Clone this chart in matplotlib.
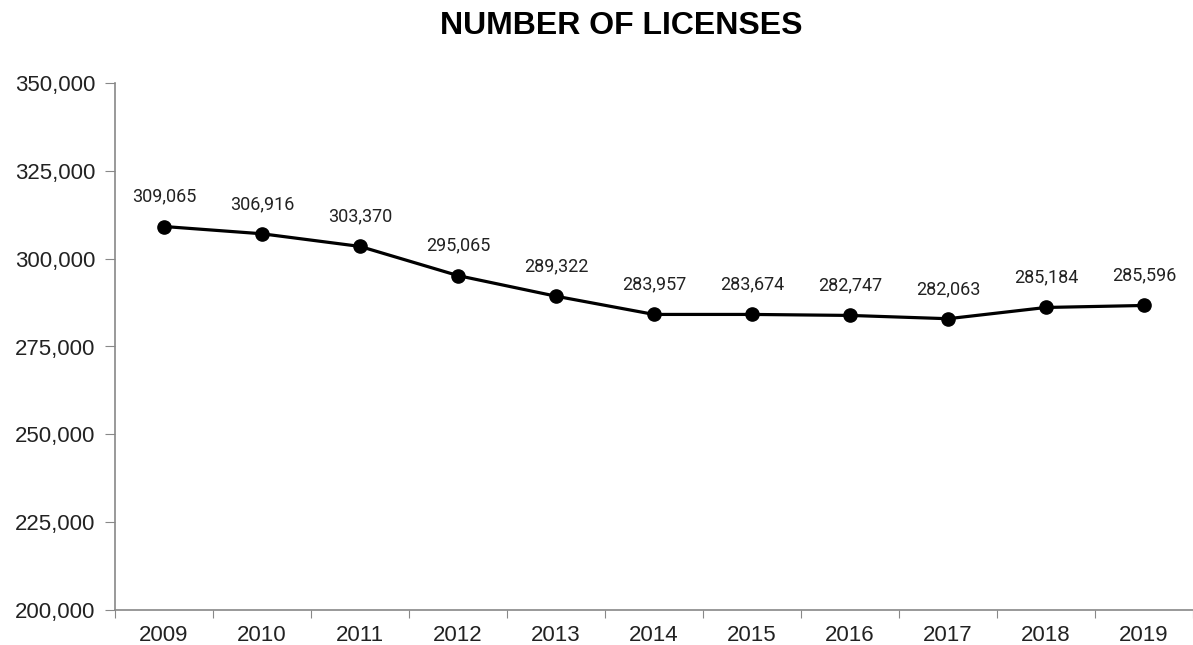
import matplotlib
matplotlib.use("Agg")
import matplotlib.pyplot as plt
from matplotlib.ticker import FuncFormatter

# years and plotted values (read from point positions)
years = ["2009", "2010", "2011", "2012", "2013", "2014", "2015", "2016", "2017", "2018", "2019"]
values = [309155, 307086, 303486, 295181, 289314, 284127, 284127, 283844, 282909, 286111, 286678]
# data labels as printed on the chart
labels = ["309,065", "306,916", "303,370", "295,065", "289,322", "283,957",
          "283,674", "282,747", "282,063", "285,184", "285,596"]
yticks = [200000, 225000, 250000, 275000, 300000, 325000, 350000]

plt.rcParams['font.family'] = ['Liberation Sans', 'DejaVu Sans']

fig = plt.figure(figsize=(11.93, 6.45), dpi=100)
ax = fig.add_axes([115 / 1193, 35 / 645, 1 - 115 / 1193, 527 / 645])

x = list(range(len(years)))
ax.plot(x, values, color="black", lw=2.3, marker="o", markersize=9.5, zorder=3)

for xi, v, lab in zip(x, values, labels):
    ax.annotate(lab, (xi, v), xytext=(0, 15), textcoords="offset points",
                ha="center", va="bottom", fontsize=13, color="#222222",
                family=['Roboto', 'DejaVu Sans'])

ax.set_xlim(-0.5, len(years) - 0.5)
ax.set_ylim(200000, 350000)
ax.set_yticks(yticks)
ax.yaxis.set_major_formatter(FuncFormatter(lambda v, p: f"{int(v):,}"))

# category ticks sit between years, labels centered on years
ax.set_xticks([i - 0.5 for i in range(len(years) + 1)])
ax.set_xticklabels([])
ax.set_xticks(x, minor=True)
ax.set_xticklabels(years, minor=True)
ax.tick_params(axis="x", which="minor", length=0, labelsize=16, labelcolor="#222222", pad=11)
ax.tick_params(axis="x", which="major", length=6, color="#888888")
ax.tick_params(axis="y", length=7, color="#888888", labelsize=16, labelcolor="#222222", pad=7)

for s in ["top", "right"]:
    ax.spines[s].set_visible(False)
for s in ["left", "bottom"]:
    ax.spines[s].set_color("#888888")
    ax.spines[s].set_linewidth(1.2)

fig.text(621 / 1193, 1 - 26 / 645, "NUMBER OF LICENSES", ha="center", va="center",
         fontsize=23, fontweight="bold", color="black")

fig.savefig("out.png", dpi=100)
